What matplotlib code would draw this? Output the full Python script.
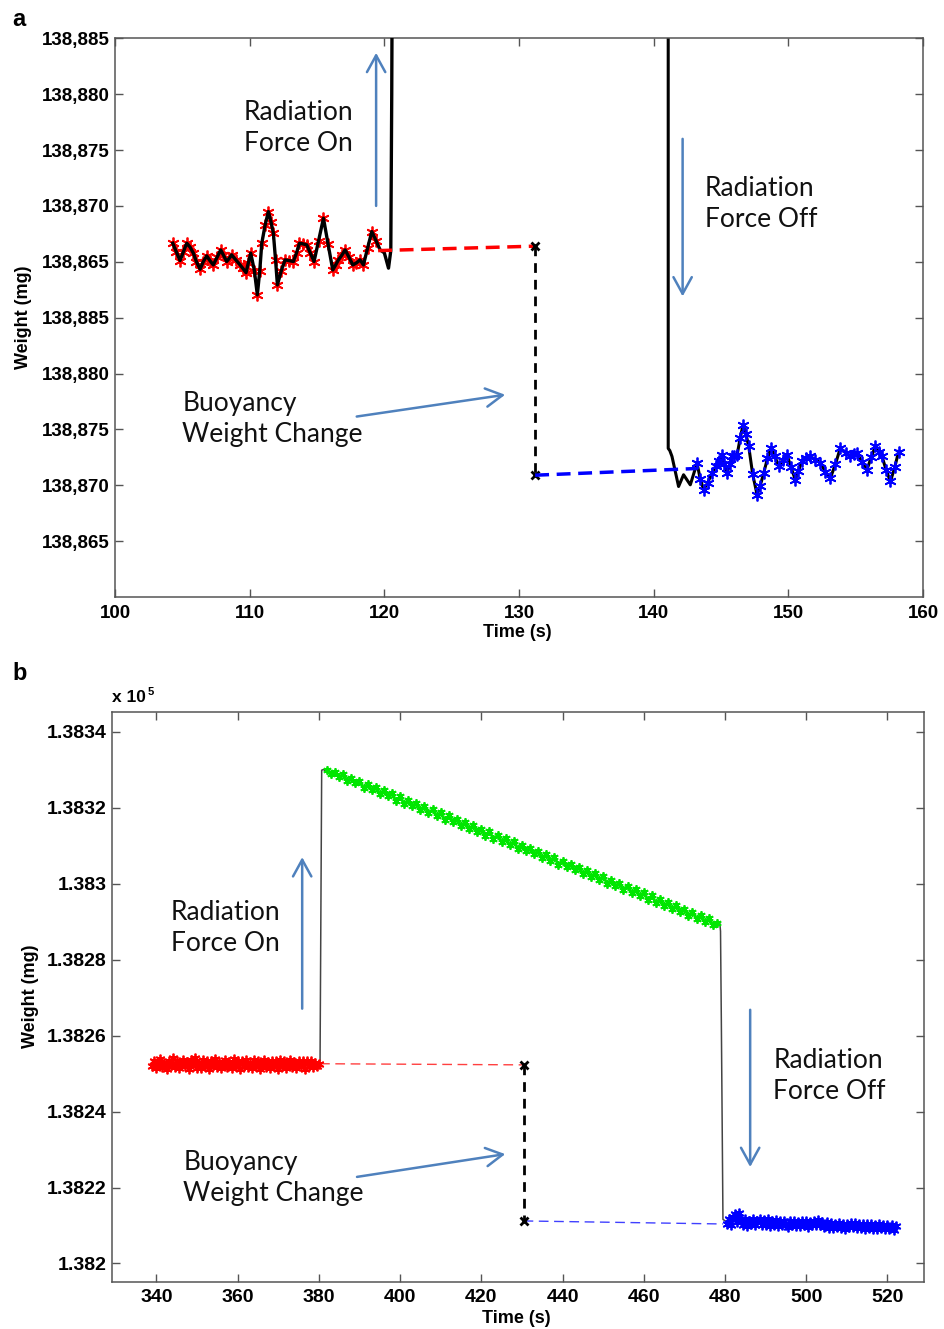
import numpy as np
import matplotlib
matplotlib.use("Agg")
import matplotlib.pyplot as plt
from matplotlib.ticker import FixedLocator, FixedFormatter, FuncFormatter

# ------------------------------------------------------------------
# Panel a data  (weights in mg as labelled on the axis)
# The lower half of panel a's y axis is labelled 25 mg higher (axis break)
AXIS_BREAK_A = 25.0

red_a_t = [104.29, 104.55, 104.83, 105.08, 105.33, 105.58, 105.82, 106.05, 106.32, 106.55,
           106.81, 107.05, 107.30, 107.58, 107.85, 108.05, 108.29, 108.48, 108.66, 108.95,
           109.29, 109.50, 109.73, 109.90, 110.08, 110.35, 110.57, 110.75, 110.90, 111.15,
           111.39, 111.58, 111.76, 111.92, 112.06, 112.35, 112.63, 112.95, 113.25, 113.48,
           113.70, 113.97, 114.24, 114.50, 114.78, 115.12, 115.48, 115.82, 116.17, 116.38,
           116.59, 116.85, 117.09, 117.38, 117.66, 117.93, 118.20, 118.45, 118.75, 119.07,
           119.38]
red_a_w = [138866.66, 138865.90, 138865.11, 138865.90, 138866.66, 138866.30, 138865.77, 138865.00, 138864.34, 138865.00,
           138865.53, 138865.10, 138864.72, 138865.40, 138866.06, 138865.60, 138865.02, 138865.30, 138865.62, 138865.20,
           138864.72, 138864.40, 138864.03, 138864.90, 138865.77, 138864.20, 138862.04, 138864.20, 138866.66, 138868.30,
           138869.49, 138868.60, 138867.56, 138865.20, 138862.93, 138864.20, 138865.17, 138865.10, 138865.02, 138865.80,
           138866.66, 138866.60, 138866.51, 138865.80, 138865.02, 138866.90, 138868.90, 138866.60, 138864.27, 138864.70,
           138865.17, 138865.60, 138866.06, 138865.40, 138864.72, 138864.90, 138865.17, 138864.72, 138866.20, 138867.70,
           138866.90]

# black trace when the radiation force is switched on (upper axis half)
on_a_t = [119.38, 119.69, 120.00, 120.31, 120.48, 120.55, 120.60]
on_a_w = [138866.90, 138866.06, 138865.80, 138864.43, 138866.00, 138880.00, 138895.00]

# black trace when the force is switched off (lower axis half labels)
off_a_t = [141.08, 141.08, 141.20, 141.36, 141.85, 142.22, 142.72, 143.22]
off_a_w = [138915.00, 138873.30, 138873.10, 138872.58, 138869.89, 138870.94, 138870.04, 138871.99]

blue_a_t = [143.22, 143.45, 143.71, 144.00, 144.33, 144.60, 144.83, 145.08, 145.25, 145.45,
            145.65, 145.83, 146.00, 146.20, 146.42, 146.64, 146.85, 147.06, 147.35, 147.68,
            147.90, 148.17, 148.45, 148.71, 149.00, 149.28, 149.60, 149.90, 150.20, 150.52,
            150.75, 151.01, 151.30, 151.63, 152.00, 152.38, 152.75, 153.12, 153.50, 153.86,
            154.25, 154.61, 154.85, 155.10, 155.45, 155.84, 156.15, 156.46, 156.70, 156.96,
            157.25, 157.58, 157.90, 158.19]
blue_a_w = [138871.99, 138870.60, 138869.60, 138870.20, 138871.09, 138871.70, 138872.13, 138872.73, 138871.90, 138871.09,
            138871.90, 138872.58, 138872.60, 138872.73, 138874.20, 138875.41, 138874.60, 138873.47, 138871.00, 138869.15,
            138869.90, 138871.09, 138872.40, 138873.33, 138872.60, 138871.68, 138872.30, 138872.73, 138871.60, 138870.49,
            138871.30, 138872.13, 138872.40, 138872.58, 138872.30, 138871.99, 138871.20, 138870.64, 138871.90, 138873.33,
            138872.90, 138872.58, 138872.80, 138872.88, 138872.10, 138871.39, 138872.50, 138873.47, 138873.00, 138872.58,
            138871.40, 138870.34, 138871.60, 138873.02]

# extrapolated levels (dashed) and buoyancy step
red_dash_a_t = [119.54, 131.20]
red_dash_a_w = [138866.00, 138866.40]            # upper half
buoy_a_t = 131.20
buoy_a_top = 138866.40                          # upper half
buoy_a_bot = 138870.90                          # lower half labels
blue_dash_a_t = [131.20, 143.20]
blue_dash_a_w = [138870.90, 138871.50]          # lower half labels

yticks_a = [138840, 138845, 138850, 138855, 138860, 138865, 138870, 138875, 138880, 138885]
ytick_labels_a = ["138,865", "138,870", "138,875", "138,880", "138,885",
                  "138,865", "138,870", "138,875", "138,880", "138,885"]
xticks_a = [100, 110, 120, 130, 140, 150, 160]

# ------------------------------------------------------------------
# Panel b data (mg)
RED_B_T0, RED_B_DT = 339.0, 0.5
red_b_w = [138252.0, 138253.4, 138251.6, 138253.0, 138253.8, 138251.7, 138252.9, 138251.3, 138253.3, 138252.2,
           138254.0, 138251.8, 138253.2, 138251.4, 138252.6, 138253.7, 138251.9, 138253.0, 138251.2, 138253.6,
           138252.4, 138254.2, 138251.6, 138252.9, 138251.5, 138253.5, 138252.0, 138253.3, 138251.3, 138253.4,
           138252.2, 138253.9, 138251.8, 138253.1, 138251.4, 138252.8, 138253.6, 138251.7, 138253.0, 138251.5,
           138253.8, 138252.0, 138253.2, 138251.2, 138253.3, 138252.1, 138253.5, 138251.7, 138252.9, 138251.4,
           138253.7, 138251.9, 138253.2, 138251.3, 138252.6, 138253.6, 138251.8, 138253.0, 138251.5, 138253.4,
           138252.1, 138253.2, 138251.2, 138253.5, 138252.0, 138253.3, 138251.4, 138252.9, 138253.6, 138251.7,
           138253.0, 138251.5, 138253.4, 138252.1, 138253.2, 138251.3, 138253.2, 138252.0, 138253.3, 138251.8,
           138252.9, 138251.9, 138252.6]

GREEN_B_T0, GREEN_B_DT = 382.0, 1.0
green_b_w = [138329.9, 138328.8, 138329.5, 138328.0, 138328.8, 138327.0, 138327.9, 138326.5, 138327.0, 138325.2,
             138326.2, 138324.6, 138325.5, 138323.6, 138324.6, 138323.1, 138323.8, 138321.8, 138323.0, 138321.0,
             138322.0, 138320.4, 138321.2, 138319.3, 138320.5, 138318.5, 138319.6, 138317.9, 138318.8, 138316.8,
             138318.0, 138316.3, 138317.1, 138315.2, 138316.3, 138314.3, 138315.4, 138313.7, 138314.5, 138312.6,
             138313.8, 138311.8, 138312.8, 138311.0, 138312.0, 138310.1, 138311.2, 138309.2, 138310.3, 138308.6,
             138309.4, 138307.7, 138308.7, 138306.7, 138307.8, 138306.1, 138307.0, 138305.0, 138306.1, 138304.4,
             138305.3, 138303.5, 138304.5, 138302.6, 138303.6, 138301.8, 138302.8, 138300.9, 138302.0, 138300.0,
             138301.1, 138299.4, 138300.1, 138298.3, 138299.5, 138297.6, 138298.5, 138296.8, 138297.7, 138295.8,
             138296.9, 138294.9, 138296.0, 138294.2, 138295.1, 138293.3, 138294.3, 138292.6, 138293.4, 138291.6,
             138292.6, 138290.8, 138291.7, 138290.0, 138290.9, 138289.1, 138289.6]

BLUE_B_T0, BLUE_B_DT = 480.5, 0.5
blue_b_w = [138210.4, 138211.8, 138210.0, 138212.2, 138212.9, 138211.0, 138213.3, 138211.5, 138210.2, 138211.6,
            138209.9, 138211.3, 138210.3, 138211.7, 138210.0, 138211.2, 138211.8, 138210.1, 138211.4, 138210.2,
            138211.6, 138209.9, 138211.2, 138210.1, 138211.5, 138209.8, 138211.1, 138210.0, 138211.3, 138210.2,
            138209.7, 138211.1, 138210.0, 138211.2, 138209.9, 138211.0, 138209.8, 138211.2, 138210.1, 138211.1,
            138209.7, 138210.9, 138210.0, 138211.3, 138210.2, 138211.4, 138210.1, 138211.0, 138209.6, 138210.8,
            138209.4, 138210.6, 138209.3, 138210.5, 138209.5, 138210.7, 138209.4, 138210.4, 138209.2, 138210.5,
            138209.5, 138210.7, 138209.6, 138210.6, 138209.3, 138210.5, 138209.4, 138210.3, 138209.1, 138210.4,
            138209.3, 138210.5, 138209.2, 138210.2, 138209.0, 138210.3, 138209.3, 138210.2, 138209.0, 138210.1,
            138209.1, 138210.0, 138208.7, 138209.8]

on_b_t = [379.8, 380.3, 380.7, 381.2, 381.8, 382.0]
on_b_w = [138252.6, 138253.4, 138329.9, 138330.1, 138329.4, 138329.9]
off_b_t = [478.4, 478.7, 478.9, 479.1, 479.5, 480.5]
off_b_w = [138289.1, 138289.9, 138287.5, 138264.0, 138211.6, 138210.9]

red_dash_b_t = [380.3, 430.4]
red_dash_b_w = [138252.6, 138252.3]
buoy_b_t = 430.4
buoy_b_w = [138252.3, 138211.2]
blue_dash_b_t = [430.4, 479.5]
blue_dash_b_w = [138211.2, 138210.4]

xticks_b = [340, 360, 380, 400, 420, 440, 460, 480, 500, 520]
yticks_b = [138200, 138220, 138240, 138260, 138280, 138300, 138320, 138340]

# ------------------------------------------------------------------
W, H = 944, 1329
fig = plt.figure(figsize=(W / 100, H / 100), dpi=100)
fig.patch.set_facecolor("white")

TICK_FONT = "Liberation Sans"
ANN_FONT = "Lato"
ARROW_C = "#4F81BD"
FRAME_C = "#555555"
ASTER = (6, 2, 0)


def style_axes(ax, xpad, ypad, fs):
    for s in ax.spines.values():
        s.set_color(FRAME_C)
        s.set_linewidth(1.1)
    ax.tick_params(which="both", direction="in", top=True, right=True, length=6,
                   width=1.0, color=FRAME_C, labelsize=fs)
    ax.tick_params(axis="x", pad=xpad)
    ax.tick_params(axis="y", pad=ypad)
    for lab in ax.get_xticklabels() + ax.get_yticklabels():
        lab.set_fontfamily(TICK_FONT)
        lab.set_fontweight("bold")


def ann_text(ax, x, y, s):
    ax.text(x, y, s, fontsize=19, family=ANN_FONT, color="#111111",
            ha="left", va="center", linespacing=1.3)


def arrow(ax, tail, head):
    ax.annotate("", xy=head, xytext=tail,
                arrowprops=dict(arrowstyle="->,head_length=0.6,head_width=0.33",
                                color=ARROW_C, lw=1.8, shrinkA=0, shrinkB=0,
                                mutation_scale=20))


# ================= Panel a =================
axa = fig.add_axes([115 / W, 1 - 597 / H, (923 - 115) / W, (597 - 38.3) / H])
axa.set_xlim(100, 160)
axa.set_ylim(138835, 138885)

lo = lambda w: np.asarray(w) - AXIS_BREAK_A

axa.plot(red_a_t, red_a_w, linestyle="none", marker=ASTER, ms=8.5, mec="red", mew=1.3, zorder=3)
axa.plot(list(red_a_t) + on_a_t[1:], list(red_a_w) + on_a_w[1:], color="black", lw=2.4,
         solid_joinstyle="round", zorder=4)

axa.plot(blue_a_t, lo(blue_a_w), linestyle="none", marker=ASTER, ms=8.5, mec="blue", mew=1.3, zorder=3)
axa.plot(off_a_t + blue_a_t[1:], lo(off_a_w + blue_a_w[1:]), color="black", lw=2.2,
         solid_joinstyle="round", zorder=2)

axa.plot(red_dash_a_t, red_dash_a_w, color="red", lw=2.5, dashes=(4, 2.2), zorder=5)
axa.plot([buoy_a_t, buoy_a_t], [buoy_a_top, buoy_a_bot - AXIS_BREAK_A], color="black", lw=2.0,
         dashes=(3.5, 2.5), marker="x", ms=6, mew=2, zorder=5)
axa.plot(blue_dash_a_t, lo(blue_dash_a_w), color="blue", lw=2.5, dashes=(4, 2.2), zorder=5)

axa.xaxis.set_major_locator(FixedLocator(xticks_a))
axa.yaxis.set_major_locator(FixedLocator(yticks_a))
axa.yaxis.set_major_formatter(FixedFormatter(ytick_labels_a))
style_axes(axa, 5.5, 4, 13.5)

axa.set_xlabel("Time (s)", fontsize=13, fontweight="bold", family=TICK_FONT)
axa.xaxis.set_label_coords(0.4975, -0.048)
axa.set_ylabel("Weight (mg)", fontsize=13, fontweight="bold", family=TICK_FONT)
axa.yaxis.set_label_coords(-0.103, 0.5)

ann_text(axa, 109.55, 138877.0, "Radiation\nForce On")
arrow(axa, (119.39, 138870.0), (119.39, 138883.7))
ann_text(axa, 143.8, 138870.2, "Radiation\nForce Off")
arrow(axa, (142.15, 138876.0), (142.15, 138861.9))
ann_text(axa, 105.0, 138850.9, "Buoyancy\nWeight Change")
arrow(axa, (117.95, 138851.15), (128.97, 138853.1))

# ================= Panel b =================
axb = fig.add_axes([111.7 / W, 1 - 1281.7 / H, (924 - 111.7) / W, (1281.7 - 711.7) / H])
axb.set_xlim(329, 529)
axb.set_ylim(138195.2, 138345.3)

red_b_t = RED_B_T0 + RED_B_DT * np.arange(len(red_b_w))
green_b_t = GREEN_B_T0 + GREEN_B_DT * np.arange(len(green_b_w))
blue_b_t = BLUE_B_T0 + BLUE_B_DT * np.arange(len(blue_b_w))

axb.plot(red_b_t, red_b_w, color="red", lw=2.0, marker=ASTER, ms=7, mew=1.3, zorder=3)
axb.plot(green_b_t, green_b_w, color="#00e600", lw=2.0, marker=ASTER, ms=6, mew=1.3, zorder=3)
axb.plot(blue_b_t, blue_b_w, color="blue", lw=2.0, marker=ASTER, ms=7, mew=1.3, zorder=3)
axb.plot(on_b_t, on_b_w, color="#444444", lw=1.1, zorder=2)
axb.plot(off_b_t, off_b_w, color="#444444", lw=1.1, zorder=2)

axb.plot(red_dash_b_t, red_dash_b_w, color="#ff4040", lw=1.0, dashes=(7, 4), zorder=2)
axb.plot([buoy_b_t, buoy_b_t], buoy_b_w, color="black", lw=2.0, dashes=(3.5, 2.5),
         marker="x", ms=6, mew=2, zorder=5)
axb.plot(blue_dash_b_t, blue_dash_b_w, color="#4040ff", lw=1.0, dashes=(7, 4), zorder=2)

axb.xaxis.set_major_locator(FixedLocator(xticks_b))
axb.yaxis.set_major_locator(FixedLocator(yticks_b))
axb.yaxis.set_major_formatter(FuncFormatter(lambda v, p: f"{v / 1e5:g}"))
style_axes(axb, 5.5, 3.5, 14)

axb.set_xlabel("Time (s)", fontsize=13, fontweight="bold", family=TICK_FONT)
axb.xaxis.set_label_coords(0.4977, -0.05)
axb.set_ylabel("Weight (mg)", fontsize=13, fontweight="bold", family=TICK_FONT)
axb.yaxis.set_label_coords(-0.09, 0.5)

axb.text(0.0, 1.012, "x 10", transform=axb.transAxes, fontsize=12.5, fontweight="bold",
         family=TICK_FONT, ha="left", va="bottom")
axb.text(0.0445, 1.026, "5", transform=axb.transAxes, fontsize=8, fontweight="bold",
         family=TICK_FONT, ha="left", va="bottom")

ann_text(axb, 343.6, 138288.3, "Radiation\nForce On")
arrow(axb, (375.9, 138267.1), (375.9, 138307.0))
ann_text(axb, 491.9, 138249.4, "Radiation\nForce Off")
arrow(axb, (486.2, 138266.8), (486.2, 138225.4))
ann_text(axb, 346.6, 138222.6, "Buoyancy\nWeight Change")
arrow(axb, (389.4, 138222.8), (425.9, 138228.8))

# panel letters
fig.text(12 / W, 1 - 8 / H, "a", fontsize=17, fontweight="bold", family=TICK_FONT, ha="left", va="top")
fig.text(12 / W, 1 - 662 / H, "b", fontsize=17, fontweight="bold", family=TICK_FONT, ha="left", va="top")

fig.savefig("out.png", dpi=100, facecolor="white")
